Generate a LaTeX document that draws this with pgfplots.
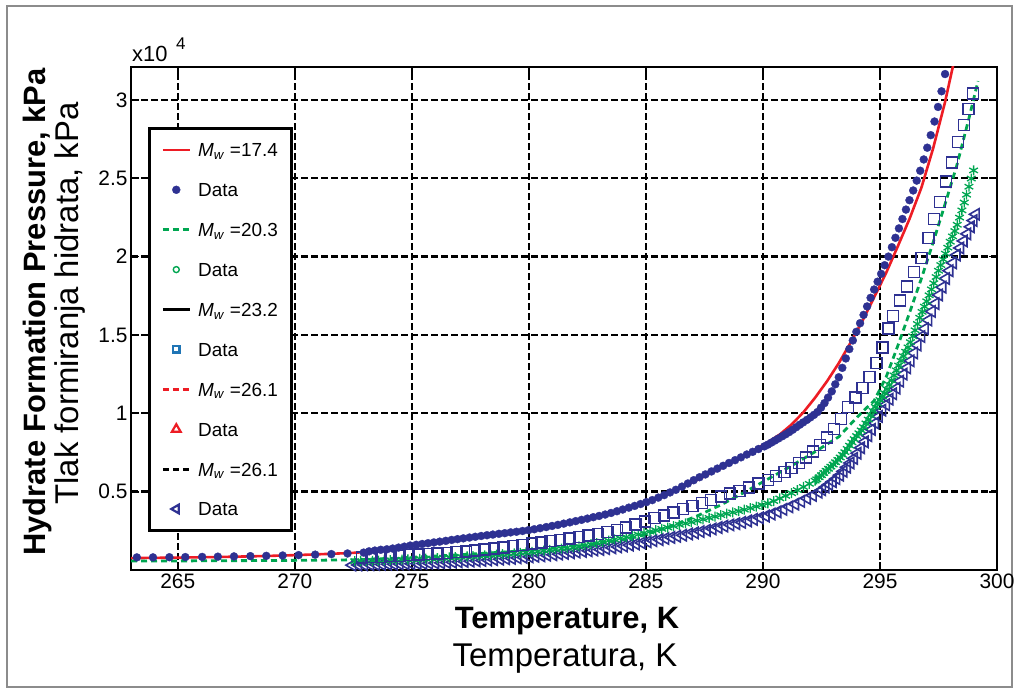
\documentclass[border=0pt]{standalone}
\usepackage{fontspec}
\setmainfont{Liberation Sans}
\setsansfont{Liberation Sans}
\usepackage{pgfplots}
\usepackage{pgfplotstable}
\pgfplotsset{compat=1.18}
\definecolor{mnavy}{RGB}{46,49,146}
\definecolor{mgreen}{RGB}{0,166,81}
\definecolor{mred}{RGB}{237,28,36}
\definecolor{lsq}{RGB}{31,117,181}

% Model M_w=17.4 (red solid)
\pgfplotstableread{
T P
263 760
264 775
265 790
266.01 812
267.02 838
268.03 868
269.03 905
270.04 950
271.05 1005
272.06 1065
272.56 1100
273.07 1160
274.08 1340
275.09 1560
276.09 1770
277.10 1990
278.11 2190
279.12 2380
280.13 2590
281.14 2870
282.14 3180
283.15 3530
284.16 3950
285.17 4440
286.18 5050
287.19 5750
288.20 6500
289.20 7300
290.21 8150
290.72 8650
291.22 9280
291.72 10050
292.23 11000
292.74 12050
293.24 13200
293.74 14500
294.25 15900
294.75 17400
295.26 18950
295.76 20650
296.26 22400
296.77 24400
297.27 26900
297.77 29800
298.17 32500
}\modelA

% Data M_w=17.4 (filled dots)
\pgfplotstableread{
T P
263.25 805
263.94 805
264.64 815
265.32 825
266.04 835
266.71 850
267.40 868
268.10 885
268.78 903
269.48 925
270.16 950
270.87 980
271.56 1015
272.25 1055
272.94 1110
273.17 1190
273.42 1240
273.67 1290
273.93 1320
274.18 1370
274.43 1430
274.68 1490
274.93 1560
275.19 1610
275.44 1660
275.69 1710
275.94 1760
276.19 1810
276.45 1860
276.70 1920
276.95 1970
277.20 2020
277.46 2070
277.71 2120
277.96 2170
278.21 2220
278.46 2260
278.72 2310
278.97 2350
279.22 2400
279.47 2440
279.73 2490
279.98 2540
280.23 2600
280.48 2670
280.74 2740
280.99 2810
281.24 2880
281.49 2960
281.75 3040
282.00 3120
282.25 3200
282.50 3280
282.75 3370
283.00 3450
283.26 3540
283.51 3640
283.76 3750
284.01 3860
284.27 3980
284.52 4090
284.77 4210
285.02 4330
285.27 4460
285.53 4620
285.78 4780
286.03 4950
286.28 5120
286.54 5320
286.79 5520
287.04 5730
287.29 5920
287.54 6100
287.80 6290
288.05 6470
288.30 6650
288.55 6830
288.81 7010
289.06 7190
289.31 7370
289.56 7540
289.81 7720
290.06 7890
290.21 8000
290.36 8130
290.51 8260
290.66 8390
290.82 8530
290.97 8660
291.12 8800
291.27 8950
291.42 9110
291.57 9270
291.72 9420
291.88 9580
292.03 9740
292.18 9900
292.33 10080
292.48 10360
292.63 10650
292.78 11000
292.94 11400
293.09 11850
293.24 12300
293.39 12900
293.54 13500
293.69 14100
293.84 14650
293.99 15200
294.15 15750
294.30 16280
294.45 16820
294.60 17370
294.75 17900
294.90 18400
295.05 18900
295.20 19450
295.36 20000
295.51 20600
295.66 21200
295.81 21800
295.96 22400
296.11 23000
296.26 23600
296.42 24220
296.57 24850
296.72 25480
296.87 26200
297.02 26950
297.17 27750
297.33 28620
297.48 29550
297.63 30550
297.78 31650
}\dataA

% Model M_w=20.3 (green dashed)
\pgfplotstableread{
T P
263 570
265 580
267.02 592
269.03 607
271.05 625
272.06 640
273.07 680
274.08 745
275.09 815
276.09 895
277.10 980
278.11 1070
279.12 1165
280.13 1280
281.14 1410
282.14 1560
283.15 1740
284.16 1950
285.17 2350
286.18 2850
287.19 3450
288.20 4150
289.20 4950
290.21 5800
291.22 6650
292.23 7550
293.24 8500
293.74 9300
294.25 10100
294.75 10800
295.26 12300
295.76 14300
296.26 16400
296.77 18600
297.27 20900
297.77 23300
298.28 25800
298.78 28700
299.19 31200
}\modelB

% Data M_w=20.3 (green stars)
\pgfplotstableread{
T P
272.56 560
272.81 570
273.06 580
273.32 590
273.57 600
273.82 615
274.08 630
274.33 645
274.58 660
274.83 675
275.09 690
275.34 705
275.59 725
275.84 742
276.09 760
276.35 780
276.60 800
276.85 822
277.10 845
277.36 868
277.61 890
277.86 910
278.11 930
278.37 955
278.62 985
278.87 1010
279.12 1040
279.37 1065
279.63 1095
279.88 1120
280.13 1150
280.38 1190
280.64 1235
280.89 1280
281.14 1325
281.39 1370
281.64 1410
281.90 1455
282.14 1500
282.40 1570
282.65 1645
282.90 1720
283.15 1800
283.41 1875
283.66 1950
283.91 2025
284.16 2100
284.41 2185
284.67 2270
284.92 2360
285.17 2450
285.42 2540
285.68 2625
285.93 2710
286.18 2800
286.43 2885
286.69 2975
286.94 3060
287.19 3150
287.44 3235
287.70 3325
287.95 3410
288.20 3500
288.45 3590
288.71 3675
288.96 3760
289.20 3850
289.46 3950
289.71 4050
289.96 4150
290.21 4250
290.46 4400
290.72 4570
290.97 4730
291.22 4900
291.47 5100
291.73 5300
291.98 5500
292.23 5700
292.30 5790
292.40 5920
292.50 6050
292.60 6190
292.70 6330
292.80 6460
292.90 6600
293.00 6730
293.10 6880
293.20 7030
293.30 7180
293.40 7350
293.50 7520
293.60 7730
293.70 7940
293.80 8150
293.90 8350
294.00 8550
294.10 8730
294.20 8910
294.30 9120
294.40 9360
294.50 9600
294.60 9880
294.70 10160
294.80 10410
294.90 10630
295.00 10850
295.10 11070
295.20 11290
295.30 11540
295.40 11820
295.50 12100
295.60 12420
295.70 12740
295.80 13050
295.90 13350
296.00 13650
296.10 13930
296.20 14210
296.30 14540
296.40 14920
296.50 15300
296.60 15700
296.70 16100
296.80 16470
296.90 16810
297.00 17150
297.10 17530
297.20 17910
297.30 18300
297.40 18700
297.50 19100
297.60 19460
297.70 19820
297.80 20190
297.90 20570
298.00 20950
298.10 21290
298.20 21630
298.30 22030
298.40 22490
298.50 22950
298.60 23450
298.70 23950
298.80 24460
298.90 24980
299.00 25500
}\dataB

% Data M_w=23.2 (open squares)
\pgfplotstableread{
T P
272.87 800
273.27 820
273.67 845
274.08 880
274.48 910
274.88 945
275.29 980
275.69 1020
276.09 1060
276.50 1100
276.90 1140
277.30 1190
277.71 1245
278.11 1300
278.51 1370
278.92 1440
279.32 1520
279.72 1600
280.13 1680
280.53 1760
280.93 1840
281.34 1920
281.74 2010
282.14 2100
282.55 2200
282.95 2300
283.35 2420
283.76 2550
284.16 2700
284.56 2900
284.97 3100
285.37 3300
285.77 3490
286.18 3680
286.58 3880
286.99 4080
287.39 4280
287.79 4480
288.20 4680
288.60 4870
289.00 5050
289.41 5270
289.81 5510
290.21 5750
290.57 6000
290.92 6260
291.22 6500
291.53 6830
291.83 7170
292.13 7550
292.43 7980
292.74 8450
293.04 8980
293.34 9650
293.64 10400
293.95 11000
294.25 11600
294.55 12300
294.85 13200
295.10 14200
295.36 15400
295.56 16200
295.86 17200
296.16 18100
296.46 19000
296.77 19900
297.07 21200
297.32 22400
297.57 23500
297.83 24800
298.08 26000
298.33 27300
298.58 28400
298.78 29400
298.98 30400
}\dataC

% Data M_w=26.1 (open left triangles)
\pgfplotstableread{
T P
272.46 310
272.71 320
272.96 330
273.22 340
273.47 350
273.72 360
273.98 368
274.23 375
274.48 385
274.73 395
274.98 400
275.24 410
275.49 420
275.74 430
276.00 445
276.25 460
276.50 480
276.75 500
277.00 520
277.25 545
277.51 565
277.76 590
278.01 610
278.26 635
278.51 660
278.77 690
279.02 720
279.27 745
279.52 775
279.77 805
280.03 840
280.28 870
280.53 905
280.78 940
281.04 975
281.29 1015
281.54 1055
281.79 1100
282.04 1140
282.30 1185
282.55 1230
282.80 1270
283.05 1310
283.30 1360
283.56 1420
283.81 1475
284.06 1530
284.31 1590
284.57 1660
284.82 1730
285.07 1800
285.32 1870
285.58 1940
285.83 2010
286.08 2080
286.33 2150
286.59 2220
286.84 2300
287.09 2370
287.34 2450
287.60 2530
287.85 2620
288.10 2710
288.35 2800
288.61 2880
288.86 2960
289.11 3040
289.36 3130
289.61 3230
289.87 3330
290.12 3440
290.37 3570
290.62 3710
290.87 3870
291.13 4030
291.38 4200
291.63 4380
291.88 4570
292.13 4760
292.38 4960
292.53 5120
292.68 5290
292.83 5460
292.98 5640
293.14 5830
293.29 6050
293.44 6300
293.59 6560
293.74 6830
293.89 7120
294.04 7450
294.19 7800
294.35 8180
294.50 8570
294.65 8970
294.80 9380
294.95 9800
295.10 10200
295.26 10550
295.41 10900
295.56 11250
295.71 11600
295.86 12050
296.01 12500
296.16 12900
296.31 13350
296.46 13850
296.61 14350
296.77 14900
296.92 15400
297.07 15950
297.22 16500
297.37 17000
297.52 17550
297.67 18050
297.82 18600
297.97 19100
298.12 19600
298.28 20100
298.43 20550
298.58 21000
298.73 21450
298.88 21900
299.00 22300
299.10 22700
}\dataD

\begin{document}
\begin{tikzpicture}
\useasboundingbox (0,0) rectangle (1020bp,693bp);
\draw[black!45, line width=1.2bp] (7bp,6bp) rectangle (1012bp,687bp);
\begin{axis}[
  at={(131bp,123bp)}, anchor=south west,
  scale only axis, width=866bp, height=503bp,
  xmin=263, xmax=300, ymin=0, ymax=32100,
  xtick={265,270,...,300},
  ytick={5000,10000,15000,20000,25000,30000},
  yticklabels={0.5,1,1.5,2,2.5,3},
  scaled x ticks=false, scaled y ticks=false,
  /pgf/number format/assume math mode=true,
  /pgf/number format/1000 sep={},
  tick label style={font=\fontsize{21}{21}\selectfont},
  grid=major,
  major grid style={black, line width=2.4bp, dash pattern=on 6.5bp off 3.5bp},
  axis line style={black, line width=2.6bp},
  major tick length=8bp,
  tick style={black, line width=1.8bp},
  tick align=inside,
  legend image code/.code={\draw[mark repeat=2,mark phase=2,#1] plot coordinates {(0bp,0bp) (13.5bp,0bp) (27bp,0bp)};},
  legend style={at={(0.0196,0.8807)}, anchor=north west,
    draw=black, line width=2.8bp, fill=white,
    font=\fontsize{19}{19}\selectfont,
    inner xsep=12bp, inner ysep=10bp,
    row sep=16.9bp,
    nodes={inner sep=2bp, text height=16.5bp, text depth=2.5bp},
    /tikz/every odd column/.append style={column sep=5bp}},
  legend cell align=left,
]
\addplot[forget plot, only marks, mnavy, mark=triangle, mark size=6.5bp, mark options={rotate=90, line width=1.6bp, fill=none}] table[x=T,y=P] {\dataD};
\addplot[forget plot, only marks, mgreen, mark=asterisk, mark size=5bp, mark options={line width=1.3bp}] table[x=T,y=P] {\dataB};
\addplot[forget plot, only marks, mnavy, mark=square, mark size=5.5bp, mark options={line width=1.4bp, fill=none}] table[x=T,y=P] {\dataC};
\addplot[mred, line width=2.6bp, no marks] table[x=T,y=P] {\modelA};
\addlegendentry{\textit{M}\textsubscript{\textit{w}} =17.4}
\addplot[only marks, mnavy, mark=*, mark size=4bp, mark options={fill=mnavy, draw=mnavy, line width=0.3bp}] table[x=T,y=P] {\dataA};
\addlegendentry{Data}
\addplot[mgreen, line width=2.8bp, dash pattern=on 6bp off 4bp, no marks] table[x=T,y=P] {\modelB};
\addlegendentry{\textit{M}\textsubscript{\textit{w}} =20.3}
\addlegendimage{only marks, mark=o, mark size=3bp, color=mgreen, mark options={line width=1.4bp}}
\addlegendentry{Data}
\addlegendimage{black, line width=2.6bp, no marks}
\addlegendentry{\textit{M}\textsubscript{\textit{w}} =23.2}
\addlegendimage{only marks, mark=square, mark size=3.2bp, color=lsq, mark options={line width=2.3bp, fill=none}}
\addlegendentry{Data}
\addlegendimage{mred, line width=2.8bp, dash pattern=on 6bp off 4bp, no marks}
\addlegendentry{\textit{M}\textsubscript{\textit{w}} =26.1}
\addlegendimage{only marks, mark=triangle, mark size=5bp, color=mred, mark options={line width=2.2bp, fill=none}}
\addlegendentry{Data}
\addlegendimage{black, line width=2.8bp, dash pattern=on 6bp off 4bp, no marks}
\addlegendentry{\textit{M}\textsubscript{\textit{w}} =26.1}
\addlegendimage{only marks, mark=triangle, mark size=5bp, color=mnavy, mark options={rotate=90, line width=2.2bp, fill=none}}
\addlegendentry{Data}
\end{axis}
\node[anchor=base west, inner sep=0pt, font=\fontsize{22}{22}\selectfont] at (132bp,631bp) {x10};
\node[anchor=base west, inner sep=0pt, font=\fontsize{17}{17}\selectfont] at (176bp,643bp) {4};
\node[rotate=90, anchor=base, inner sep=0pt, font=\bfseries\fontsize{31}{31}\selectfont] at (45bp,381bp) {Hydrate Formation Pressure, kPa};
\node[rotate=90, anchor=base, inner sep=0pt, font=\fontsize{33}{33}\selectfont] at (78bp,389.5bp) {Tlak formiranja hidrata, kPa};
\node[anchor=base, inner sep=0pt, font=\bfseries\fontsize{31}{31}\selectfont] at (567bp,64bp) {Temperature, K};
\node[anchor=base, inner sep=0pt, font=\fontsize{33}{33}\selectfont] at (565bp,27bp) {Temperatura, K};
\end{tikzpicture}
\end{document}
